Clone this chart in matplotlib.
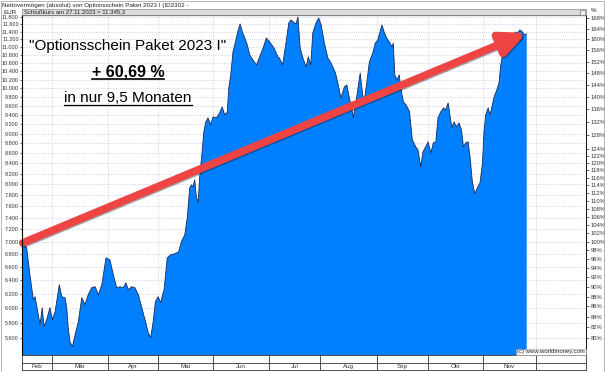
import matplotlib.pyplot as plt
import matplotlib.patheffects as pe
from matplotlib.patches import Rectangle
from matplotlib.lines import Line2D
from matplotlib.ticker import NullLocator

plt.rcParams['font.family'] = ['Liberation Sans', 'DejaVu Sans']

# trading-day index (chart starts mid Feb 2023) and net asset value in EUR
days = [0.3, 1.9, 3.2, 4.6, 5.3, 6.6, 7.3, 8.2, 8.9, 10.0, 11.3, 12.3, 13.4, 15.1, 16.1,
        17.4, 18.1, 18.7, 19.4, 20.4, 21.5, 22.8, 24.2, 25.5, 26.8, 28.2, 29.6, 30.9, 32.3,
        34.0, 35.6, 36.7, 38.3, 39.7, 41.0, 42.1, 43.0, 44.4, 45.7, 47.1, 48.5, 49.8, 51.1,
        52.1, 53.1, 54.0, 55.1, 56.2, 56.7, 57.5, 58.0, 58.8, 60.2, 61.8, 63.4, 64.5, 65.9,
        66.9, 67.9, 68.6, 69.2, 69.9, 70.6, 71.3, 71.9, 72.9, 73.6, 74.4, 75.3, 76.4, 77.3,
        78.7, 80.0, 81.0, 82.1, 83.1, 83.7, 84.5, 85.4, 86.4, 87.5, 88.3, 89.2, 90.2, 91.2,
        92.2, 93.5, 94.9, 96.2, 97.6, 98.9, 100.3, 102.0, 103.6, 104.2, 105.5, 106.9, 108.0,
        108.9, 110.3, 110.9, 111.7, 112.6, 113.7, 115.0, 115.9, 116.9, 117.7, 119.0, 120.1,
        121.1, 122.4, 123.8, 125.1, 126.9, 128.2, 129.1, 130.5, 131.5, 132.5, 133.6, 134.1,
        135.2, 136.3, 136.9, 137.9, 138.6, 139.6, 140.6, 142.0, 143.0, 144.0, 144.9, 145.7,
        146.7, 147.6, 148.7, 149.8, 150.3, 150.9, 151.8, 152.7, 153.6, 154.4, 155.5, 156.9,
        157.1, 158.0, 159.4, 160.3, 161.4, 162.3, 163.4, 164.4, 165.5, 166.5, 167.5, 168.4,
        169.5, 170.6, 171.5, 172.5, 173.2, 174.0, 174.9, 175.8, 176.9, 177.9, 178.7, 179.6,
        180.6, 181.4, 182.3, 183.3, 184.3, 185.4, 186.4, 187.0, 187.7, 188.7, 189.5, 190.2,
        191.1, 192.2, 193.1, 193.8, 194.7, 195.8, 197.2, 198.5, 199.6, 200.5, 201.6, 202.6,
        203.5, 204.3]
nav = [6980, 6900, 6481, 6115, 6158, 5906, 5771, 6003, 5744, 5838, 6003, 5838, 5947, 6332, 6158,
       6144, 6003, 5731, 5547, 5483, 5639, 5811, 6144, 6045, 6187, 6288, 6303, 6187, 6332,
       6741, 6710, 6526, 6288, 6303, 6288, 6362, 6259, 6303, 6288, 6187, 6003, 5838, 5665,
       5599, 5811, 6087, 6158, 6073, 6158, 6259, 6436, 6741, 6789, 6804, 6836, 6997, 7112,
       7398, 7932, 7987, 7950, 8081, 7768, 7660, 8119, 8620, 9034, 9246, 9333, 9182, 9355,
       9333, 9442, 9574, 9398, 9464, 10006, 10313, 10878, 11134, 11449, 11610, 11395, 11238, 11056,
       10803, 10677, 10555, 10753, 10979, 11238, 11134, 10979, 10753, 10728, 10555, 11134, 11637,
       11718, 11637, 11610, 11800, 10979, 10728, 10506, 10753, 10555, 11369, 11637, 11770,
       11583, 11108, 10728, 10604, 10360, 10029, 9776, 10029, 10076, 9776, 9508, 9333,
       9686, 10123, 10360, 9845, 9731, 10146, 10628, 10853, 11108, 11185, 11395, 11583,
       11369, 11238, 11134, 11005, 11108, 10313, 10194, 10313, 9914, 9686, 9619, 9464,
       9333, 8868, 8725, 8664, 8328, 8624, 8725, 8827, 8604, 8806, 8827, 9333,
       9464, 9552, 9508, 9664, 9398, 9119, 9246, 9140, 9225, 9076, 8725, 8806,
       8827, 8504, 8043, 7823, 7932, 8025, 8406, 9034, 9398, 9552, 9398, 9574,
       9799, 9960, 10123, 10555, 10853, 11056, 11238, 11264, 11395, 11369, 11449, 11395,
       11317, 11345]

month_edges = [0, 12, 35, 55, 77.5, 100, 120.5, 143.5, 164.5, 186.5, 208, 228.3]
month_names = ["Feb", "Mär", "Apr", "Mai", "Jun", "Jul", "Aug", "Sep", "Okt", "Nov", ""]

eur_ticks = list(range(5600, 11801, 200))
pct_ticks = list(range(80, 125, 2)) + list(range(128, 169, 4))
base_value = 7000                      # = 100 %
arrow_from = (0.3, 6980)
arrow_to = (204.3, 11370)

W, H = 605, 372
fig = plt.figure(figsize=(W / 100, H / 100), dpi=100)


def box(x0, y0, x1, y1):               # pixel box -> figure fraction
    return [x0 / W, 1 - y1 / H, (x1 - x0) / W, (y1 - y0) / H]


ax = fig.add_axes(box(22, 15, 586, 355))
ax.set_yscale('log')
ax.set_xlim(month_edges[0], month_edges[-1])
ax.set_ylim(5378, 11855)
ax.fill_between(days, nav, 4000, color='#0080FF', lw=0, zorder=2)
ax.plot(days, nav, color='#1b2a55', lw=0.6, zorder=3)

ax.yaxis.set_minor_locator(NullLocator())
ax.set_yticks(eur_ticks)
ax.set_yticklabels([f"{v:,}".replace(",", ".") for v in eur_ticks])
ax.set_xticks(month_edges[1:-1])
ax.set_xticklabels([])
ax.tick_params(axis='x', length=0)
ax.tick_params(axis='y', length=1.5, width=0.5, pad=0.8, labelsize=4.0, colors='#333333')
ax.grid(True, ls=(0, (1, 1.6)), color='#C4C4E4', lw=0.6, zorder=1)
for sp in ax.spines.values():
    sp.set_linewidth(0.6)
    sp.set_color('#555555')

ax2 = ax.twinx()
ax2.set_yscale('log')
ax2.set_ylim(5378 / base_value * 100, 11855 / base_value * 100)
ax2.yaxis.set_minor_locator(NullLocator())
ax2.set_yticks(pct_ticks)
ax2.set_yticklabels([f"{p}%" for p in pct_ticks])
ax2.tick_params(axis='y', length=2, width=0.5, pad=1.2, labelsize=4.2, colors='#333333')
ax2.spines['right'].set_linewidth(0.6)

# red trend arrow
ax.annotate('', xy=arrow_to, xytext=arrow_from, zorder=5,
            arrowprops=dict(arrowstyle='-|>,head_length=1.5,head_width=0.7', mutation_scale=10,
                            lw=5.5, color='#EF4444', shrinkA=0, shrinkB=0,
                            path_effects=[pe.SimpleLineShadow(offset=(0.8, -0.8), alpha=0.35),
                                          pe.Normal()]))

# caption texts (underlined ones get a line under their extent)
cx = 128 / W
fig.text(cx, 1 - 46 / H, '"Optionsschein Paket 2023 I"', ha='center', va='center', fontsize=11)
t1 = fig.text(cx, 1 - 72 / H, '+ 60,69 %', ha='center', va='center', fontsize=11.5,
              fontweight='bold')
t2 = fig.text(cx, 1 - 98 / H, 'in nur 9,5 Monaten', ha='center', va='center', fontsize=11)
fig.canvas.draw()
for t, uy, lw in [(t1, 79, 1.2), (t2, 104.5, 0.9)]:
    bb = t.get_window_extent()
    fig.add_artist(Line2D([bb.x0 / W, bb.x1 / W], [1 - uy / H] * 2, color='black', lw=lw,
                          transform=fig.transFigure))

# month strip below the plot
axm = fig.add_axes(box(22, 355, 586, 370))
axm.set_xlim(month_edges[0], month_edges[-1])
axm.set_ylim(0, 2)
axm.axhline(1, color='#333333', lw=0.6)
axm.vlines(month_edges[1:-1], 0, 2, color='#333333', lw=0.6)
for a, b, name in zip(month_edges[:-1], month_edges[1:], month_names):
    axm.text((a + b) / 2, 0.5, name, ha='center', va='center', fontsize=4.5, color='#333333')
axm.set_xticks([])
axm.set_yticks([])
for sp in axm.spines.values():
    sp.set_linewidth(0.6)
    sp.set_color('#333333')

# header
fig.text(2 / W, 1 - 5 / H, "Nettovermögen (absolut) von Optionsschein Paket 2023 I (ID2302 -",
         fontsize=4.5, va='center', color='#222222')
fig.add_artist(Rectangle((22 / W, 1 - 15 / H), 564 / W, 6 / H, transform=fig.transFigure,
                         facecolor='#DCDCDC', edgecolor='#8A8A8A', lw=0.5))
fig.text(24 / W, 1 - 12 / H, "Schlußkurs am 27.11.2023 = 11.345,3", fontsize=4.3, va='center',
         color='#222222')
fig.add_artist(Rectangle((580 / W, 1 - 14.5 / H), 5 / W, 5 / H, transform=fig.transFigure,
                         facecolor='#EEEEEE', edgecolor='#666666', lw=0.4))
fig.text(4 / W, 1 - 12 / H, "EUR", fontsize=4.5, va='center', color='#222222')
fig.text(591 / W, 1 - 11 / H, "%", fontsize=4.5, va='center', color='#222222')
fig.text(585 / W, 1 - 352 / H, "(c) www.worldmoney.com", ha='right', va='center', fontsize=4.3,
         color='#222222', bbox=dict(facecolor='white', edgecolor='#999999', lw=0.4, pad=0.6))

fig.add_artist(Rectangle((0.5 / W, 0.5 / H), 603 / W, 371 / H, transform=fig.transFigure,
                         fill=False, edgecolor='#AAAAAA', lw=0.6))

fig.savefig("out.png", dpi=100)
